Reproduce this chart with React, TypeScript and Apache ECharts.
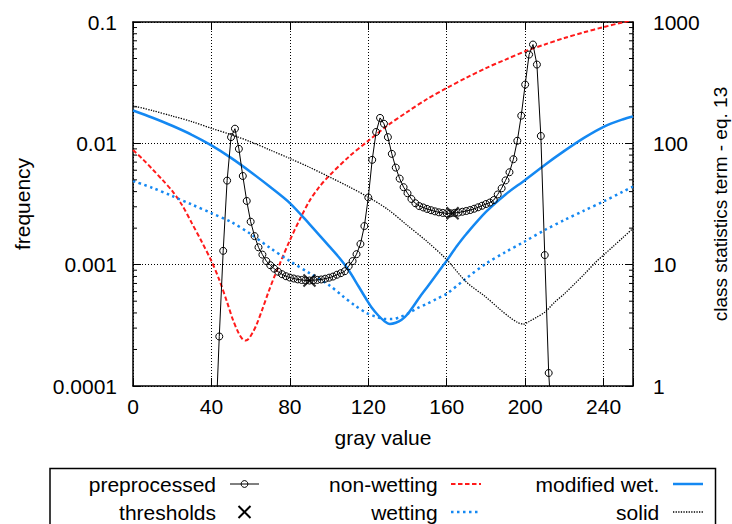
import React, { useEffect, useRef } from 'react';
import * as echarts from 'echarts';

// ---------- data ----------
const histGray = [42,44,46,48,50,52,54,56,58,60,62,64,66,68,70,72,74,76,78,80,82,84,86,88,90,92,94,96,98,100,102,104,106,108,110,112,114,116,118,120,122,124,126,128,130,132,134,136,138,140,142,144,146,148,150,152,154,156,158,160,162,164,166,168,170,172,174,176,178,180,182,184,186,188,190,192,194,196,198,200,202,204,206,208,210,212,214];
const histFreq = [4e-5,2.56e-4,1.3e-3,4.93e-3,1.125e-2,1.32e-2,9.0e-3,5.38e-3,3.35e-3,2.26e-3,1.72e-3,1.39e-3,1.21e-3,1.07e-3,9.9e-4,9.27e-4,8.75e-4,8.34e-4,8.03e-4,7.83e-4,7.69e-4,7.56e-4,7.48e-4,7.41e-4,7.4e-4,7.45e-4,7.49e-4,7.55e-4,7.66e-4,7.81e-4,7.98e-4,8.26e-4,8.51e-4,8.83e-4,9.72e-4,1.07e-3,1.22e-3,1.48e-3,2.08e-3,3.58e-3,7.31e-3,1.24e-2,1.62e-2,1.45e-2,1.125e-2,8.19e-3,6.31e-3,5.12e-3,4.35e-3,3.88e-3,3.48e-3,3.21e-3,3.04e-3,2.96e-3,2.88e-3,2.81e-3,2.75e-3,2.7e-3,2.67e-3,2.65e-3,2.65e-3,2.67e-3,2.69e-3,2.73e-3,2.77e-3,2.82e-3,2.89e-3,2.97e-3,3.06e-3,3.16e-3,3.25e-3,3.41e-3,3.79e-3,4.26e-3,4.95e-3,5.78e-3,7.4e-3,1.05e-2,1.69e-2,3.05e-2,5.39e-2,6.52e-2,4.46e-2,1.15e-2,1.2e-3,1.28e-4,4e-5];

const thresholdGray = [90, 163];
const thresholdFreq = [7.4e-4, 2.65e-3];

const nonWetGray = [0,5,10,15,20,25,30,35,40,44,48,51,54,56,57.5,59,61,63,66,69,72,75,80,85,90,95,100,110,120,130,140,150,160,170,180,190,200,210,220,230,240,250,255];
const nonWetVal = [88,74,61,50,40.5,31,22,15.5,10.7,7.5,4.9,3.5,2.7,2.42,2.37,2.45,2.75,3.2,4.3,5.9,7.9,10.3,15.9,23.5,33.5,43.7,53.9,77.3,105,141,182,232,286,347,417,490,574,653,738,822,908,995,1040];

const modWetGray = [0,10,20,30,40,50,60,70,80,90,100,105,110,115,119,122,125,128,131,134,137,140,143,146,150,153,156,160,165,170,180,190,200,210,220,230,240,250,255];
const modWetVal = [186.6,162.5,139.6,117.6,96.2,75.9,58.1,43.7,32.2,21.6,14.2,11.5,9.0,6.64,5.19,4.37,3.83,3.45,3.25,3.32,3.51,3.9,4.54,5.34,6.52,7.59,8.83,10.8,14.1,17.9,27.2,37.9,49.9,66.4,86.7,111,136.9,157.9,166.5];

const wetGray = [0,10,20,30,40,50,60,70,80,90,100,107,113,119,124,128,132,136,140,145,150,155,160,170,180,190,200,210,220,230,240,250,255];
const wetVal = [49,42.9,36.8,31.3,26.6,22.5,17.9,13.7,10.7,8.51,6.78,5.5,4.63,4.01,3.72,3.58,3.56,3.68,3.94,4.37,4.76,5.24,5.76,7.73,10.2,12.7,15.6,19.3,23.3,27.9,33.2,40.1,44];

const solidGray = [0,10,20,30,40,50,60,70,80,90,100,110,120,130,140,150,160,170,180,187,192,196,199,202,206,210,215,220,225,230,236,240,245,250,255];
const solidVal = [204,186,168,151,133,118,103,88,75,63.5,53,44,36,28.5,21,15.5,11,7.2,5.4,4.3,3.7,3.35,3.24,3.4,3.7,4.05,4.9,5.75,6.9,8.3,10.5,12,14.2,16.8,19.9];

const xTickLabels = ['0', '40', '80', '120', '160', '200', '240'];
const leftTickLabels = ['0.0001', '0.001', '0.01', '0.1'];
const rightTickLabels = ['1', '10', '100', '1000'];
const minorFactors = [2, 3, 4, 5, 6, 7, 8, 9];
const minorDecades = [1e-4, 1e-3, 1e-2];

const seriesNames = ['preprocessed', 'thresholds', 'non-wetting', 'wetting', 'modified wet.', 'solid'];

// ---------- styles ----------
const FONT = '"Liberation Sans", Arial, Helvetica, sans-serif';
const FS = 21;
const RED = '#ff1a1a';
const BLUE = '#1488f2';

const zip = (xs: number[], ys: number[]) => xs.map((x, i) => [x, ys[i]]);

export default function App() {
  const ref = useRef<HTMLDivElement>(null);
  useEffect(() => {
    if (!ref.current) return;
    const chart = echarts.init(ref.current, undefined, { renderer: 'svg' });
    const minorVals: number[] = [];
    minorDecades.forEach((d) => minorFactors.forEach((f) => minorVals.push(f * d)));

    const axisLine = { show: true, onZero: false, lineStyle: { color: '#000', width: 1.5 } };
    const tick = { show: true, inside: true, length: 8, lineStyle: { color: '#000', width: 1 } };
    const grid = { show: true, lineStyle: { color: '#000', width: 1, type: [1, 2] } };
    const lbl = { color: '#000', fontSize: FS, fontFamily: FONT };

    const legendRowY = [484, 512];
    const legendTextX = [216, 437.7, 659.3];
    const legendSampleX = [[230, 259], [451, 481], [673, 703]];
    const txt = (s: string, x: number, y: number) => ({
      type: 'text', x, y, silent: true,
      style: { text: s, align: 'right', verticalAlign: 'middle', fill: '#000', fontSize: FS, fontFamily: FONT },
    });
    const seg = (c: number, r: number, style: any) => ({
      type: 'line', silent: true,
      shape: { x1: legendSampleX[c][0], y1: legendRowY[r], x2: legendSampleX[c][1], y2: legendRowY[r] },
      style,
    });
    const cx0 = (legendSampleX[0][0] + legendSampleX[0][1]) / 2;

    const option: any = {
      animation: false,
      backgroundColor: '#fff',
      textStyle: { fontFamily: FONT },
      grid: { left: 133, right: 99, top: 22, bottom: 138, containLabel: false, outerBoundsMode: 'none' },
      xAxis: [
        {
          type: 'value', min: 0, max: 255, interval: 40, position: 'bottom',
          name: 'gray value', nameLocation: 'middle', nameGap: 41,
          nameTextStyle: { ...lbl },
          axisLine, axisTick: tick,
          axisLabel: { ...lbl, margin: 10, formatter: (v: number) => (v % 40 === 0 && v <= 240 ? xTickLabels[v / 40] : '') },
          splitLine: grid,
        },
        {
          type: 'value', min: 0, max: 255, interval: 40, position: 'top',
          axisLine, axisTick: tick, axisLabel: { show: false }, splitLine: { show: false },
        },
      ],
      yAxis: [
        {
          type: 'log', logBase: 10, min: 1e-4, max: 0.1, position: 'left',
          name: 'frequency', nameLocation: 'middle', nameGap: 100, nameRotate: 90,
          nameTextStyle: { ...lbl },
          axisLine, axisTick: tick,
          axisLabel: { ...lbl, margin: 16, formatter: (v: number) => leftTickLabels[Math.round(Math.log10(v)) + 4] ?? '' },
          splitLine: grid,
        },
        {
          type: 'log', logBase: 10, min: 1, max: 1000, position: 'right',
          name: 'class statistics term - eq. 13', nameLocation: 'middle', nameGap: 76, nameRotate: 90,
          nameTextStyle: { ...lbl, fontSize: 19 },
          axisLine, axisTick: tick,
          axisLabel: { ...lbl, margin: 20, formatter: (v: number) => rightTickLabels[Math.round(Math.log10(v))] ?? '' },
          splitLine: { show: false },
        },
      ],
      series: [
        {
          name: seriesNames[0], type: 'line', xAxisIndex: 0, yAxisIndex: 0, clip: true, z: 4,
          data: zip(histGray, histFreq),
          symbol: 'circle', symbolSize: 7, showSymbol: true,
          itemStyle: { color: 'rgba(0,0,0,0)', borderColor: '#000', borderWidth: 1 },
          lineStyle: { color: '#000', width: 1 },
        },
        {
          name: seriesNames[1], type: 'scatter', xAxisIndex: 0, yAxisIndex: 0, z: 6,
          data: zip(thresholdGray, thresholdFreq),
          symbol: 'path://M0,0L10,10M10,0L0,10', symbolSize: 12,
          itemStyle: { color: 'rgba(0,0,0,0)', borderColor: '#000', borderWidth: 2 },
        },
        {
          name: seriesNames[2], type: 'line', xAxisIndex: 0, yAxisIndex: 1, clip: true, z: 3,
          data: zip(nonWetGray, nonWetVal), symbol: 'none', smooth: 0.3,
          lineStyle: { color: RED, width: 2, type: [4.5, 2.5] },
        },
        {
          name: seriesNames[3], type: 'line', xAxisIndex: 0, yAxisIndex: 1, clip: true, z: 3,
          data: zip(wetGray, wetVal), symbol: 'none', smooth: 0.3,
          lineStyle: { color: BLUE, width: 2.5, type: [2.5, 3.5] },
        },
        {
          name: seriesNames[4], type: 'line', xAxisIndex: 0, yAxisIndex: 1, clip: true, z: 3,
          data: zip(modWetGray, modWetVal), symbol: 'none', smooth: 0.3,
          lineStyle: { color: BLUE, width: 2.5 },
        },
        {
          name: seriesNames[5], type: 'line', xAxisIndex: 0, yAxisIndex: 1, clip: true, z: 3,
          data: zip(solidGray, solidVal), symbol: 'none', smooth: 0.3,
          lineStyle: { color: '#000', width: 1.3, type: [1.3, 1.3] },
        },
        {
          type: 'custom', xAxisIndex: 0, yAxisIndex: 0, silent: true, z: 7,
          data: minorVals.map((v) => [0, v]),
          encode: { x: 0, y: 1 },
          renderItem: (_p: any, api: any) => {
            const v = api.value(1);
            const pl = api.coord([0, v]);
            const pr = api.coord([255, v]);
            const st = { stroke: '#000', lineWidth: 1 };
            return {
              type: 'group',
              children: [
                { type: 'line', shape: { x1: pl[0], y1: pl[1], x2: pl[0] + 4, y2: pl[1] }, style: st },
                { type: 'line', shape: { x1: pr[0] - 4, y1: pr[1], x2: pr[0], y2: pr[1] }, style: st },
              ],
            };
          },
        },
      ],
      graphic: [
        { type: 'rect', silent: true, shape: { x: 50, y: 468.5, width: 665.5, height: 70 }, style: { fill: 'none', stroke: '#000', lineWidth: 1.5 } },
        txt(seriesNames[0], legendTextX[0], legendRowY[0]),
        seg(0, 0, { stroke: '#000', lineWidth: 1 }),
        { type: 'circle', silent: true, shape: { cx: cx0, cy: legendRowY[0], r: 3.4 }, style: { fill: 'none', stroke: '#000', lineWidth: 1 } },
        txt(seriesNames[1], legendTextX[0], legendRowY[1]),
        { type: 'line', silent: true, shape: { x1: cx0 - 6, y1: legendRowY[1] - 6, x2: cx0 + 6, y2: legendRowY[1] + 6 }, style: { stroke: '#000', lineWidth: 2 } },
        { type: 'line', silent: true, shape: { x1: cx0 + 6, y1: legendRowY[1] - 6, x2: cx0 - 6, y2: legendRowY[1] + 6 }, style: { stroke: '#000', lineWidth: 2 } },
        txt(seriesNames[2], legendTextX[1], legendRowY[0]),
        seg(1, 0, { stroke: RED, lineWidth: 2, lineDash: [4.5, 2.5] }),
        txt(seriesNames[3], legendTextX[1], legendRowY[1]),
        seg(1, 1, { stroke: BLUE, lineWidth: 2.5, lineDash: [2.5, 3.5] }),
        txt(seriesNames[4], legendTextX[2], legendRowY[0]),
        seg(2, 0, { stroke: BLUE, lineWidth: 2.5 }),
        txt(seriesNames[5], legendTextX[2], legendRowY[1]),
        seg(2, 1, { stroke: '#000', lineWidth: 1.3, lineDash: [1.3, 1.3] }),
      ],
    };
    chart.setOption(option);
    return () => chart.dispose();
  }, []);
  return <div ref={ref} style={{ position: 'absolute', left: 0, top: 0, width: 732, height: 524 }} />;
}
